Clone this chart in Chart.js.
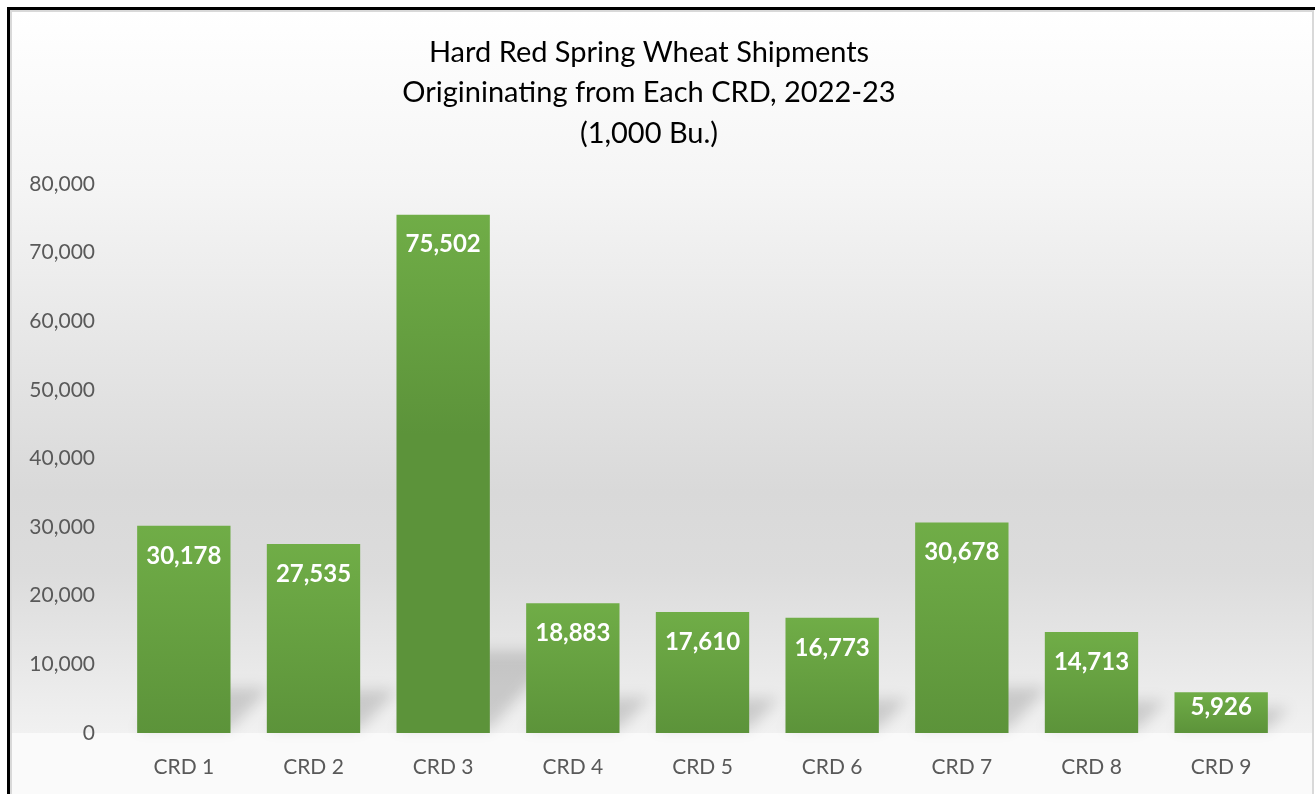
<!DOCTYPE html>
<html>
<head>
<meta charset="utf-8">
<script src="https://cdn.jsdelivr.net/npm/chart.js@4.4.1/dist/chart.umd.min.js"></script>
<style>
  html, body { margin: 0; padding: 0; background: #fff; overflow: hidden; }
  #frame {
    position: absolute; left: 7px; top: 7px;
    width: 1330px; height: 820px;
    border-left: 3px solid #000; border-top: 3px solid #000;
  }
  #inner {
    position: absolute; left: 0; top: 0;
    width: 1300px; height: 800px;
    border-left: 2px solid #d9d9d9; border-top: 2px solid #d9d9d9; border-right: 2px solid #d9d9d9;
  }
  #wrap { position: absolute; left: 0; top: 0; width: 1300px; height: 790px; }
</style>
</head>
<body>
<div id="frame"><div id="inner"><div id="wrap"><canvas id="chartCrd"></canvas></div></div></div>
<script>
// data
const crdLabels = ['CRD 1', 'CRD 2', 'CRD 3', 'CRD 4', 'CRD 5', 'CRD 6', 'CRD 7', 'CRD 8', 'CRD 9'];
const shipments = [30178, 27535, 75502, 18883, 17610, 16773, 30678, 14713, 5926];
const titleLines = [
  'Hard Red Spring Wheat Shipments',
  'Origininating from Each CRD, 2022-23',
  '(1,000 Bu.)'
];

const FONT = 'Lato, "Open Sans", sans-serif';
const fmt = v => Number(v).toLocaleString('en-US');

// background: gray band behind the plot, lighter below the axis
const bgPlugin = {
  id: 'bgFill',
  beforeDraw(chart) {
    const { ctx, width, height, chartArea } = chart;
    ctx.save();
    ctx.fillStyle = '#fafafa';
    ctx.fillRect(0, 0, width, height);
    const b = chartArea.bottom;
    const g = ctx.createLinearGradient(0, 0, 0, b);
    g.addColorStop(0, '#ffffff');
    g.addColorStop(172 / b, '#f5f5f5');
    g.addColorStop(480 / b, '#d9d9d9');
    g.addColorStop(560 / b, '#dcdcdc');
    g.addColorStop(1, '#f1f1f1');
    ctx.fillStyle = g;
    ctx.fillRect(0, 0, width, b);
    ctx.restore();
  }
};

// soft perspective shadow behind each bar
const shadowPlugin = {
  id: 'barShadow',
  beforeDatasetsDraw(chart) {
    const { ctx } = chart;
    const meta = chart.getDatasetMeta(0);
    ctx.save();
    ctx.filter = 'blur(7px)';
    ctx.fillStyle = 'rgba(0,0,0,0.15)';
    meta.data.forEach(bar => {
      const p = bar.getProps(['x', 'y', 'base', 'width'], true);
      const h = 20 + 0.12 * (p.base - p.y);
      const dx = h * 0.85;
      const x0 = p.x - p.width / 2, x1 = p.x + p.width / 2;
      ctx.beginPath();
      ctx.moveTo(x0, p.base - 4);
      ctx.lineTo(x1, p.base - 4);
      ctx.lineTo(x1 + dx, p.base - h);
      ctx.lineTo(x0 + dx, p.base - h);
      ctx.closePath();
      ctx.fill();
    });
    ctx.restore();
  }
};

// white value labels inside the top of each bar
const valuePlugin = {
  id: 'valueLabels',
  afterDatasetsDraw(chart) {
    const { ctx } = chart;
    const meta = chart.getDatasetMeta(0);
    ctx.save();
    ctx.font = 'bold 24px ' + FONT;
    ctx.fillStyle = '#ffffff';
    ctx.textAlign = 'center';
    ctx.textBaseline = 'middle';
    meta.data.forEach((bar, i) => {
      const off = Math.min(30, (bar.base - bar.y) / 2 - 5);
      ctx.fillText(fmt(shipments[i]), bar.x, bar.y + off);
    });
    ctx.restore();
  }
};

new Chart(document.getElementById('chartCrd'), {
  type: 'bar',
  data: {
    labels: crdLabels,
    datasets: [{
      label: 'Shipments',
      data: shipments,
      backgroundColor(c) {
        const chart = c.chart;
        if (!chart.chartArea) return '#66a040';
        const ys = chart.scales.y;
        const top = ys.getPixelForValue(c.raw);
        const bottom = ys.getPixelForValue(0);
        const g = chart.ctx.createLinearGradient(0, top, 0, Math.min(bottom, top + 220));
        g.addColorStop(0, '#70ad47');
        g.addColorStop(1, '#5c933a');
        return g;
      },
      borderWidth: 0,
      barPercentage: 0.72,
      categoryPercentage: 1
    }]
  },
  options: {
    responsive: true,
    maintainAspectRatio: false,
    animation: false,
    layout: { padding: { left: 0, right: 26, top: 0, bottom: 0 } },
    plugins: {
      legend: { display: false },
      tooltip: { enabled: false },
      title: {
        display: true,
        text: titleLines,
        color: '#000000',
        font: { family: FONT, size: 29, weight: 'normal', lineHeight: 1.4 },
        padding: { top: 20, bottom: 30 }
      }
    },
    scales: {
      x: {
        grid: { display: false, drawTicks: false },
        border: { display: false },
        ticks: { color: '#595959', font: { family: FONT, size: 21 }, padding: 22 },
        afterFit(s) { s.height = 69; }
      },
      y: {
        min: 0,
        max: 80000,
        grid: { display: false, drawTicks: false },
        border: { display: false },
        ticks: {
          stepSize: 10000,
          color: '#595959',
          font: { family: FONT, size: 21 },
          padding: 24,
          callback: v => fmt(v)
        },
        afterFit(s) { s.width = 107; }
      }
    }
  },
  plugins: [bgPlugin, shadowPlugin, valuePlugin]
});
</script>
</body>
</html>
